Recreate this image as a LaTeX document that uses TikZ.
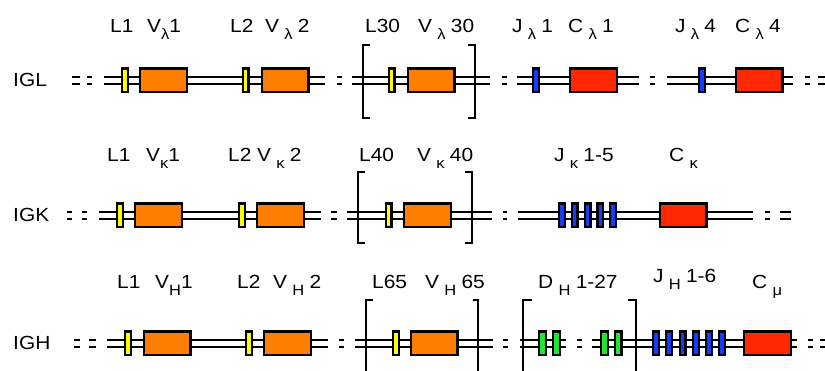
\documentclass[tikz,border=0pt]{standalone}
\usepackage{fontspec}
\setmainfont{Liberation Sans}[FakeStretch=1.1]
\definecolor{gOrange}{RGB}{255,125,0}
\definecolor{gYellow}{RGB}{255,255,0}
\definecolor{gRed}{RGB}{255,40,0}
\definecolor{gBlue}{RGB}{20,60,255}
\definecolor{gGreen}{RGB}{30,230,50}
\newcommand{\sbs}[1]{\raisebox{-6.5pt}{\fontsize{15}{15}\selectfont #1}}
\tikzset{
  dbl/.style={draw=black, line width=2.4pt, double=white, double distance=4.6pt},
  gene/.style={draw=black, line width=2.4pt, inner sep=0pt, outer sep=0pt, minimum height=23.6pt},
  lbox/.style={gene, fill=gYellow, minimum width=5.6pt},
  vbox/.style={gene, fill=gOrange, minimum width=46.6pt},
  jbox/.style={gene, fill=gBlue, minimum width=5.6pt},
  cbox/.style={gene, fill=gRed, minimum width=46.6pt},
  dbox/.style={gene, fill=gGreen, minimum width=6.6pt},
  brk/.style={draw=black, line width=2.6pt},
  lab/.style={anchor=base west, inner sep=0pt, font=\fontsize{19}{21}\selectfont},
}
\begin{document}
\begin{tikzpicture}[x=1pt,y=-1pt]
\useasboundingbox (0,0) rectangle (825,371);
\clip (0,0) rectangle (825,371);
% ================= Row 1: IGL =================
\def\ra{80.5}
\node[lab] (igl) at (13,87) {IGL};
\draw[dbl] (72,\ra) -- (80,\ra);
\draw[dbl] (87,\ra) -- (92,\ra);
\coordinate (a1s) at (104,\ra); \coordinate (a1e) at (325,\ra);
\coordinate (a2s) at (352,\ra); \coordinate (a2e) at (490,\ra);
\coordinate (a3s) at (517,\ra); \coordinate (a3e) at (639,\ra);
\coordinate (a4s) at (667,\ra); \coordinate (a4e) at (793,\ra);
\draw[dbl] (a1s) -- (a1e);
\draw[dbl] (a2s) -- (a2e);
\draw[dbl] (a3s) -- (a3e);
\draw[dbl] (a4s) -- (a4e);
\draw[dbl] (337,\ra) -- (342,\ra);
\draw[dbl] (502,\ra) -- (507,\ra);
\draw[dbl] (650,\ra) -- (655,\ra);
\draw[dbl] (805,\ra) -- (810,\ra);
\draw[dbl] (818,\ra) -- (826,\ra);
\node[lbox] (al1) at (125,\ra) {};
\node[vbox] (av1) at (163.5,\ra) {};
\node[lbox] (al2) at (245.5,\ra) {};
\node[vbox] (av2) at (285,\ra) {};
\node[lbox] (al30) at (391.5,\ra) {};
\node[vbox] (av30) at (431,\ra) {};
\node[jbox] (aj1) at (536,\ra) {};
\node[cbox] (ac1) at (593.5,\ra) {};
\node[jbox] (aj4) at (702,\ra) {};
\node[cbox] (ac4) at (759,\ra) {};
\draw[brk] (370,45) -- (363,45) -- (363,118) -- (370,118);
\draw[brk] (468,45) -- (475,45) -- (475,118) -- (468,118);
\node[lab] (tal1) at (110,33) {L1};
\node[lab] (tav1) at (147,33) {V\sbs{λ}1};
\node[lab] (tal2) at (230,33) {L2};
\node[lab] (tav2) at (265,33) {V\;\sbs{λ}\;2};
\node[lab] (tal30) at (365,33) {L30};
\node[lab] (tav30) at (418,33) {V\;\sbs{λ}\;30};
\node[lab] (taj1) at (512,33) {J\;\sbs{λ}\;1};
\node[lab] (tac1) at (568,33) {C\;\sbs{λ}\;1};
\node[lab] (taj4) at (675,33) {J\;\sbs{λ}\;4};
\node[lab] (tac4) at (735,33) {C\;\sbs{λ}\;4};
% ================= Row 2: IGK =================
\def\rb{215.5}
\node[lab] (igk) at (13,222) {IGK};
\draw[dbl] (67,\rb) -- (72,\rb);
\draw[dbl] (82,\rb) -- (87,\rb);
\coordinate (b1s) at (99,\rb); \coordinate (b1e) at (321,\rb);
\coordinate (b2s) at (347,\rb); \coordinate (b2e) at (492,\rb);
\coordinate (b3s) at (518,\rb); \coordinate (b3e) at (753,\rb);
\draw[dbl] (b1s) -- (b1e);
\draw[dbl] (b2s) -- (b2e);
\draw[dbl] (b3s) -- (b3e);
\draw[dbl] (331,\rb) -- (337,\rb);
\draw[dbl] (503,\rb) -- (507,\rb);
\draw[dbl] (765,\rb) -- (770,\rb);
\draw[dbl] (780,\rb) -- (791,\rb);
\node[lbox] (bl1) at (120,\rb) {};
\node[vbox] (bv1) at (158.5,\rb) {};
\node[lbox] (bl2) at (242,\rb) {};
\node[vbox] (bv2) at (280.5,\rb) {};
\node[lbox] (bl40) at (388.5,\rb) {};
\node[vbox] (bv40) at (427.5,\rb) {};
\foreach \x [count=\i] in {562,574.75,587.5,600.25,613}
  \node[jbox] (bj\i) at (\x,\rb) {};
\node[cbox] (bc) at (683,\rb) {};
\draw[brk] (365,172) -- (358,172) -- (358,243) -- (365,243);
\draw[brk] (465,172) -- (472,172) -- (472,243) -- (465,243);
\node[lab] (tbl1) at (107,162) {L1};
\node[lab] (tbv1) at (146,162) {V\sbs{κ}1};
\node[lab] (tbl2) at (228,162) {L2};
\node[lab] (tbv2) at (257,162) {V\;\sbs{κ}\;2};
\node[lab] (tbl40) at (359,162) {L40};
\node[lab] (tbv40) at (417,162) {V\;\sbs{κ}\;40};
\node[lab] (tbj) at (554,162) {J\;\sbs{κ}\;1-5};
\node[lab] (tbc) at (669,162) {C\;\sbs{κ}};
% ================= Row 3: IGH =================
\def\rc{343.5}
\node[lab] (igh) at (13,350) {IGH};
\draw[dbl] (74,\rc) -- (80,\rc);
\draw[dbl] (89,\rc) -- (96,\rc);
\coordinate (c1s) at (107,\rc); \coordinate (c1e) at (328,\rc);
\coordinate (c2s) at (355,\rc); \coordinate (c2e) at (493,\rc);
\coordinate (c3s) at (520,\rc); \coordinate (c3e) at (566,\rc);
\coordinate (c4s) at (592,\rc); \coordinate (c4e) at (797,\rc);
\draw[dbl] (c1s) -- (c1e);
\draw[dbl] (c2s) -- (c2e);
\draw[dbl] (c3s) -- (c3e);
\draw[dbl] (c4s) -- (c4e);
\draw[dbl] (339,\rc) -- (344,\rc);
\draw[dbl] (503,\rc) -- (508,\rc);
\draw[dbl] (577,\rc) -- (582,\rc);
\draw[dbl] (808,\rc) -- (813,\rc);
\draw[dbl] (820,\rc) -- (826,\rc);
\node[lbox] (cl1) at (128,\rc) {};
\node[vbox] (cv1) at (167,\rc) {};
\node[lbox] (cl2) at (249,\rc) {};
\node[vbox] (cv2) at (287.5,\rc) {};
\node[lbox] (cl65) at (396,\rc) {};
\node[vbox] (cv65) at (434,\rc) {};
\foreach \x [count=\i] in {542.5,556.5,604.5,618}
  \node[dbox] (cd\i) at (\x,\rc) {};
\foreach \x [count=\i] in {656,669,682.5,696,709,722}
  \node[jbox] (cj\i) at (\x,\rc) {};
\node[cbox] (cc) at (767.5,\rc) {};
\draw[brk] (373,300) -- (366,300) -- (366,380);
\draw[brk] (473,300) -- (478,300) -- (478,380);
\draw[brk] (532,300) -- (523,300) -- (523,380);
\draw[brk] (628,300) -- (636,300) -- (636,380);
\node[lab] (tcl1) at (117,289) {L1};
\node[lab] (tcv1) at (155,289) {V\sbs{H}1};
\node[lab] (tcl2) at (237,289) {L2};
\node[lab] (tcv2) at (273,289) {V\;\sbs{H}\;2};
\node[lab] (tcl65) at (372,289) {L65};
\node[lab] (tcv65) at (425,289) {V\;\sbs{H}\;65};
\node[lab] (tcd) at (538,289) {D\;\sbs{H}\;1-27};
\node[lab] (tcj) at (653,283) {J\;\sbs{H}\;1-6};
\node[lab] (tcc) at (752,289) {C\;\sbs{μ}};
\end{tikzpicture}
\end{document}
